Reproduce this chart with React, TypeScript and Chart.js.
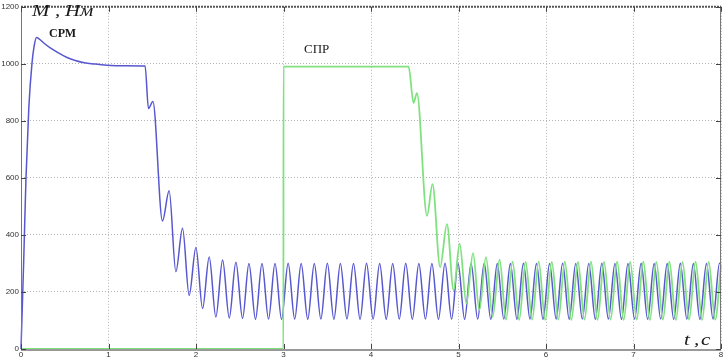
import React, { useEffect, useRef } from "react";
import { Chart, registerables } from "chart.js";

Chart.register(...registerables);

// ---- Data ----
const xTickLabels = ["0", "1", "2", "3", "4", "5", "6", "7", "8"];
const yTickLabels = ["0", "200", "400", "600", "800", "1000", "1200"];

// СРМ (blue) time, s
const srmTime = [
  0, 0.03, 0.057, 0.09, 0.125, 0.15, 0.178, 0.21, 0.26, 0.33, 0.42, 0.52, 0.62, 0.71, 0.85, 0.98, 1.2, 1.418,
  1.457, 1.507, 1.617, 1.693, 1.77, 1.846, 1.922, 1.999, 2.075, 2.151, 2.227, 2.304, 2.38, 2.456, 2.532, 2.605, 2.68,
  2.754, 2.829, 2.903, 2.978, 3.053, 3.128, 3.202, 3.277, 3.352, 3.427, 3.501, 3.576, 3.65, 3.725, 3.8, 3.875,
  3.949, 4.024, 4.099, 4.174, 4.248, 4.323, 4.397, 4.472, 4.547, 4.622, 4.696, 4.771, 4.846, 4.921, 4.995, 5.07,
  5.144, 5.219, 5.294, 5.369, 5.443, 5.518, 5.593, 5.668, 5.742, 5.817, 5.891, 5.966, 6.041, 6.116, 6.19, 6.265,
  6.34, 6.415, 6.489, 6.564, 6.638, 6.713, 6.788, 6.863, 6.937, 7.012, 7.087, 7.162, 7.236, 7.311, 7.385, 7.46,
  7.535, 7.61, 7.684, 7.759, 7.834, 7.909, 7.983, 8.0,
];
// СРМ (blue) torque, Нм
const srmTorque = [
  0, 300, 600, 850, 1000, 1062, 1092, 1087, 1073, 1057, 1040, 1023, 1012, 1005, 999, 995, 993, 992,
  843, 868, 449, 555, 271, 423, 188, 356, 142, 323, 112, 312, 109, 304, 107, 300, 104,
  300, 105, 300, 104, 301, 105, 300, 104, 300, 105, 301, 104, 300, 105, 300, 104,
  301, 105, 300, 104, 300, 105, 301, 104, 300, 105, 300, 104, 301, 105, 300, 104,
  300, 105, 301, 104, 300, 105, 300, 104, 301, 105, 300, 104, 300, 105, 301, 104,
  300, 105, 300, 104, 301, 105, 300, 104, 300, 105, 301, 104, 300, 105, 300, 104,
  301, 105, 300, 104, 300, 105, 301, 299,
];

// СПР (green) time, s
const sprTime = [
  0, 2.999, 3.0, 4.43, 4.486, 4.525, 4.64, 4.703, 4.79, 4.868, 4.944, 5.013, 5.09, 5.166, 5.238, 5.314, 5.39, 5.47,
  5.543, 5.618, 5.693, 5.767, 5.842, 5.916, 5.991, 6.066, 6.141, 6.215, 6.29, 6.365, 6.44, 6.514, 6.589, 6.663,
  6.738, 6.813, 6.888, 6.962, 7.037, 7.112, 7.187, 7.261, 7.336, 7.41, 7.485, 7.56, 7.635, 7.709, 7.784, 7.859,
  7.934, 8.0,
];
// СПР (green) torque, Нм
const sprTorque = [
  0, 0, 990, 990, 863, 897, 467, 578, 287, 438, 206, 369, 159, 336, 136, 322, 113, 313,
  103, 306, 102, 305, 103, 306, 102, 305, 103, 306, 102, 305, 103, 306, 102, 305,
  103, 306, 102, 305, 103, 306, 102, 305, 103, 306, 102, 305, 103, 306, 102, 305,
  103, 296,
];

const toPoints = (t: number[], v: number[]) => t.map((x, i) => ({ x, y: v[i] }));

const framePlugin = {
  id: "frame",
  afterDraw(chart: any) {
    const { ctx, chartArea: a, scales } = chart;
    const xs = scales.x;
    const ys = scales.y;
    ctx.save();
    // frame
    ctx.lineWidth = 1;
    ctx.strokeStyle = "#777";
    ctx.beginPath();
    ctx.moveTo(a.left + 0.5, a.top);
    ctx.lineTo(a.left + 0.5, a.bottom);
    ctx.moveTo(a.right - 0.5, a.top);
    ctx.lineTo(a.right - 0.5, a.bottom);
    ctx.stroke();
    ctx.strokeStyle = "#999";
    ctx.lineWidth = 2;
    ctx.beginPath();
    ctx.moveTo(a.left, a.bottom + 1);
    ctx.lineTo(a.right, a.bottom + 1);
    ctx.stroke();
    ctx.strokeStyle = "#555";
    ctx.lineWidth = 2;
    ctx.setLineDash([2, 1]);
    ctx.beginPath();
    ctx.moveTo(a.left, a.top);
    ctx.lineTo(a.right, a.top);
    ctx.stroke();
    ctx.setLineDash([]);
    // inward tick marks
    ctx.strokeStyle = "#444";
    ctx.lineWidth = 1;
    ctx.beginPath();
    xTickLabels.forEach((l) => {
      const px = Math.round(xs.getPixelForValue(Number(l))) + 0.5;
      ctx.moveTo(px, a.bottom);
      ctx.lineTo(px, a.bottom - 5);
      ctx.moveTo(px, a.top);
      ctx.lineTo(px, a.top + 5);
    });
    yTickLabels.forEach((l) => {
      const py = Math.round(ys.getPixelForValue(Number(l))) + 0.5;
      ctx.moveTo(a.left, py);
      ctx.lineTo(a.left + 5, py);
      ctx.moveTo(a.right, py);
      ctx.lineTo(a.right - 5, py);
    });
    ctx.stroke();

    // annotations
    ctx.fillStyle = "#1a1a1a";
    ctx.textBaseline = "alphabetic";
    const stretched = (txt: string, x: number, y: number, font: string, sx: number) => {
      ctx.save();
      ctx.font = font;
      ctx.translate(x, y);
      ctx.scale(sx, 1);
      ctx.fillText(txt, 0, 0);
      ctx.restore();
    };
    const f1 = "italic 16px 'Liberation Serif', serif";
    stretched("M", 32, 16, f1, 1.3);
    stretched(",", 55, 16, f1, 1.3);
    stretched("Нм", 65, 16, f1, 1.3);
    ctx.font = "bold 12px 'Liberation Serif', serif";
    ctx.fillText("СРМ", 49, 37);
    ctx.font = "13px 'Liberation Serif', serif";
    ctx.fillText("СПР", 304, 53);
    const f2 = "italic 17px 'Liberation Serif', serif";
    stretched("t", 684, 345, f2, 1.25);
    stretched(",", 694, 345, f2, 1.25);
    stretched("с", 701, 345, f2, 1.25);
    ctx.restore();
  },
};

export default function App() {
  const ref = useRef<HTMLCanvasElement>(null);
  useEffect(() => {
    document.body.style.margin = "0";
    const chart = new Chart(ref.current as HTMLCanvasElement, {
      type: "line",
      data: {
        datasets: [
          {
            label: "СПР",
            data: toPoints(sprTime, sprTorque),
            borderColor: "#7fe27f",
            borderWidth: 1.8,
            pointRadius: 0,
            cubicInterpolationMode: "monotone",
            clip: 4,
          },
          {
            label: "СРМ",
            data: toPoints(srmTime, srmTorque),
            borderColor: "#5757cf",
            borderWidth: 1.5,
            pointRadius: 0,
            cubicInterpolationMode: "monotone",
            clip: 4,
          },
        ],
      },
      options: {
        animation: false,
        responsive: false,
        devicePixelRatio: 1,
        parsing: false,
        layout: { padding: { left: 0, top: 5, right: 4, bottom: 0 } },
        plugins: { legend: { display: false }, tooltip: { enabled: false } },
        scales: {
          x: {
            type: "linear",
            min: 0,
            max: 8,
            afterFit: (s: any) => {
              s.height = 12;
            },
            ticks: {
              stepSize: 1,
              padding: 1,
              color: "#333",
              font: { size: 8, family: "'Liberation Sans', sans-serif" },
              maxRotation: 0,
              callback: (v: any) => String(v),
            },
            grid: { color: "#b4b4b4", drawTicks: false },
            border: { display: false, dash: [1, 2] },
          },
          y: {
            type: "linear",
            min: 0,
            max: 1200,
            afterFit: (s: any) => {
              s.width = 21;
            },
            ticks: {
              stepSize: 200,
              padding: 2,
              color: "#333",
              font: { size: 8, family: "'Liberation Sans', sans-serif" },
              callback: (v: any) => String(v),
            },
            grid: { color: "#b4b4b4", drawTicks: false },
            border: { display: false, dash: [1, 2] },
          },
        },
      },
      plugins: [framePlugin],
    } as any);
    return () => chart.destroy();
  }, []);
  return (
    <div style={{ position: "fixed", left: 0, top: 0, width: 725, height: 361, background: "#fff" }}>
      <canvas ref={ref} width={725} height={361} style={{ width: 725, height: 361, display: "block" }} />
    </div>
  );
}
